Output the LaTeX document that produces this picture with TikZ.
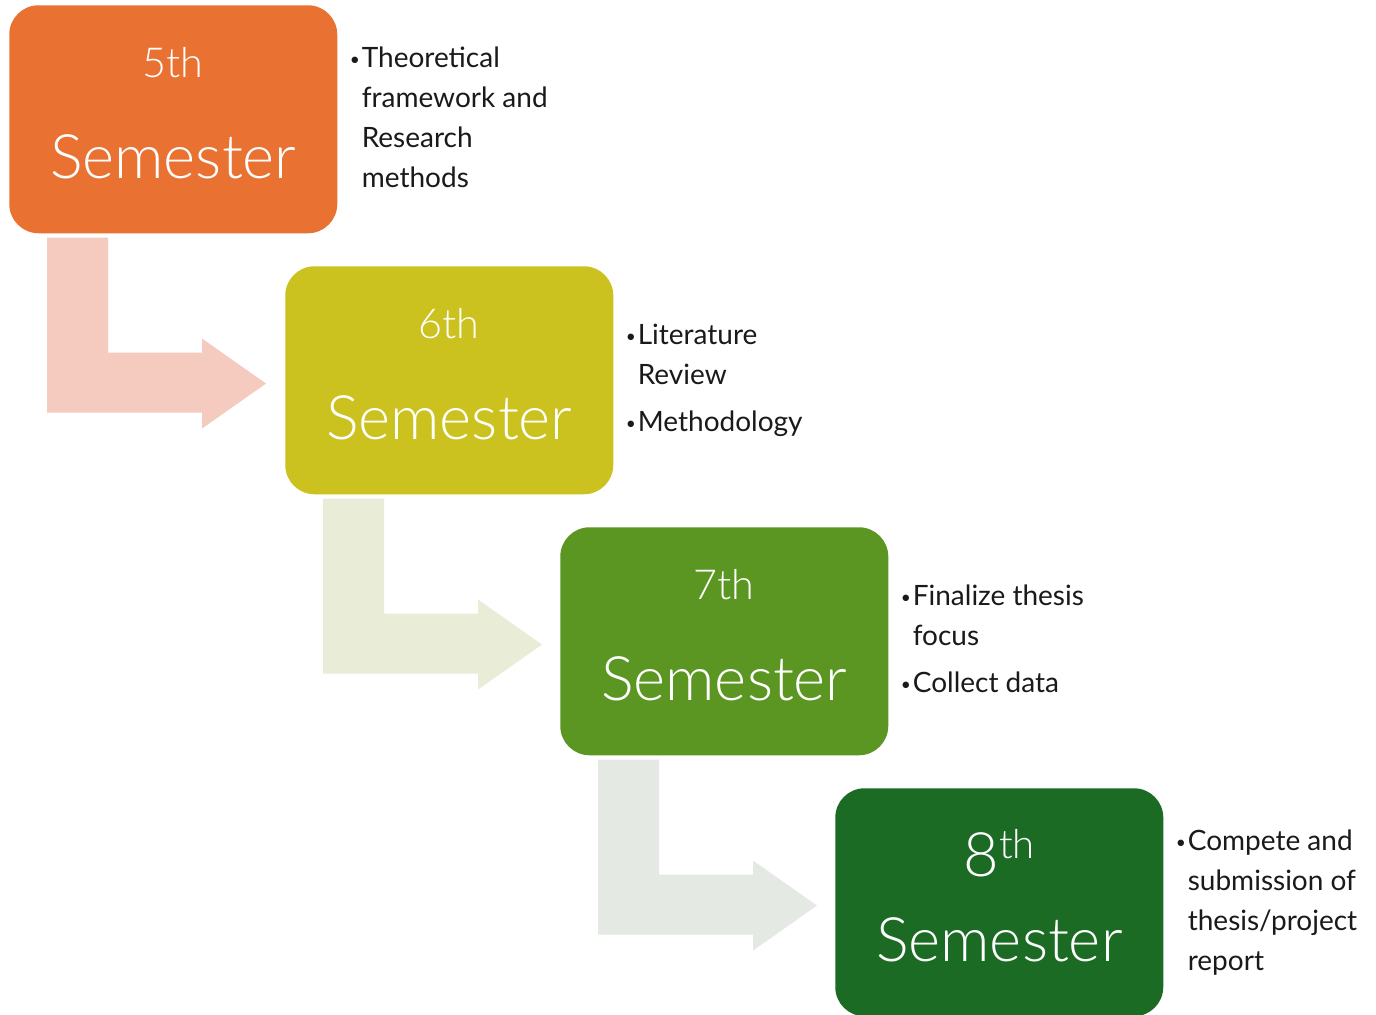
\documentclass[tikz,border=0pt]{standalone}
\usepackage{fontspec}
\setmainfont{Lato}
\newfontfamily\lightfont{Lato}[UprightFont={* Light}]
\usetikzlibrary{calc}
\definecolor{boxA}{HTML}{E97132}
\definecolor{boxB}{HTML}{CBC11F}
\definecolor{boxC}{HTML}{5A9621}
\definecolor{boxD}{HTML}{1C6B25}
\definecolor{arrA}{HTML}{F5CABF}
\definecolor{arrB}{HTML}{E9EDD7}
\definecolor{arrC}{HTML}{E5E9E4}
\definecolor{notetext}{HTML}{1A1A1A}
\newcommand{\bul}{\makebox[9pt][l]{\raisebox{1.5pt}{\fontsize{13}{13}\selectfont •}}}
\begin{document}
\begin{tikzpicture}[x=0.75pt,y=-0.75pt,
  sem/.style={fill=#1, rounded corners=22pt, minimum width=246pt, minimum height=171pt, inner sep=0pt, anchor=north west},
  ordtxt/.style={font=\lightfont\fontsize{31}{31}\selectfont, text=white, anchor=base, inner sep=0pt},
  semtxt/.style={font=\lightfont\fontsize{46}{46}\selectfont, text=white, anchor=base, inner sep=0pt},
  note/.style={font=\fontsize{21}{30}\selectfont, text=notetext, anchor=west, inner sep=0pt},
  pics/bent/.style={code={\fill[#1] (38,4) -- (99,4) -- (99,119) -- (193,119) -- (193,105) -- (257,150) -- (193,195) -- (193,179) -- (38,179) -- cycle;}}
]
\useasboundingbox (0,0) rectangle (1376,1014);
\fill[white] (0,0) rectangle (1376,1014);

% boxes
\node[sem=boxA] (b5) at (9,5) {};
\node[sem=boxB] (b6) at (285,266) {};
\node[sem=boxC] (b7) at (560,527) {};
\node[sem=boxD] (b8) at (835,788) {};

% connectors
\pic at (b5.south west) {bent=arrA};
\pic at (b6.south west) {bent=arrB};
\pic at (b7.south west) {bent=arrC};

% box texts
\node[ordtxt] (o5) at ($(b5.north)+(0,72)$) {5th};
\node[semtxt] (s5) at ($(b5.north)+(0,173)$) {Semester};
\node[ordtxt] (o6) at ($(b6.north)+(0,72)$) {6th};
\node[semtxt] (s6) at ($(b6.north)+(0,173)$) {Semester};
\node[ordtxt] (o7) at ($(b7.north)+(0,72)$) {7th};
\node[semtxt] (s7) at ($(b7.north)+(0,173)$) {Semester};
\node[semtxt] (o8) at ($(b8.north)+(0,88)$) {8\raisebox{13pt}{\fontsize{30}{30}\selectfont th}};
\node[semtxt] (s8) at ($(b8.north)+(0,173)$) {Semester};

% notes
\node[note] (n5) at ($(b5.east)+(12,0)$) {\begin{tabular}{@{}l@{}l@{}}\bul & Theoretical\\ & framework and\\ & Research\\ & methods\end{tabular}};
\node[note] (n6) at ($(b6.east)+(12,0)$) {\begin{tabular}{@{}l@{}l@{}}\bul & Literature\\ & Review\\[5pt] \bul & Methodology\end{tabular}};
\node[note] (n7) at ($(b7.east)+(12,0)$) {\begin{tabular}{@{}l@{}l@{}}\bul & Finalize thesis\\ & focus\\[5pt] \bul & Collect data\end{tabular}};
\node[note] (n8) at ($(b8.east)+(12,0)$) {\begin{tabular}{@{}l@{}l@{}}\bul & Compete and\\ & submission of\\ & thesis/project\\ & report\end{tabular}};
\end{tikzpicture}
\end{document}
